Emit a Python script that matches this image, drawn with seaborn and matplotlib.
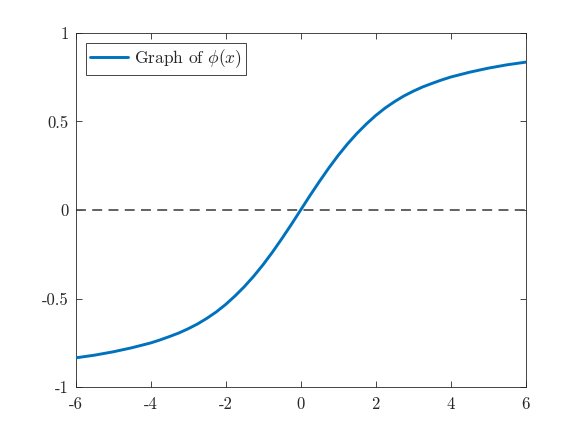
import matplotlib
matplotlib.use("Agg")
import matplotlib.pyplot as plt
import seaborn as sns
import pandas as pd

# values
x_vals = [-6, -5.5, -5, -4.5, -4, -3.75, -3.5, -3.25, -3, -2.75, -2.5, -2.25, -2, -1.75, -1.5, -1.25, -1,
          -0.75, -0.5, -0.25, 0, 0.25, 0.5, 0.75, 1, 1.25, 1.5, 1.75, 2, 2.25, 2.5, 2.75, 3,
          3.25, 3.5, 3.75, 4, 4.5, 5, 5.5, 6]
phi_vals = [-0.834, -0.819, -0.800, -0.777, -0.750, -0.733, -0.714, -0.694, -0.670, -0.643, -0.611,
            -0.575, -0.533, -0.485, -0.432, -0.373, -0.308, -0.237, -0.161, -0.082, 0.0,
            0.082, 0.161, 0.237, 0.308, 0.373, 0.432, 0.485, 0.533, 0.575, 0.611, 0.643, 0.670,
            0.694, 0.714, 0.733, 0.750, 0.777, 0.800, 0.819, 0.834]
x_ticks = [-6, -4, -2, 0, 2, 4, 6]
y_ticks = [-1, -0.5, 0, 0.5, 1]
y_tick_labels = ["-1", "-0.5", "0", "0.5", "1"]
x_tick_labels = ["-6", "-4", "-2", "0", "2", "4", "6"]
series_label = r"Graph of $\phi(x)$"

sns.set_style("ticks")
plt.rcParams["font.family"] = ["cmr10", "DejaVu Serif"]
plt.rcParams["mathtext.fontset"] = "cm"
plt.rcParams["axes.unicode_minus"] = False

df = pd.DataFrame({"x": x_vals, "phi": phi_vals})

fig = plt.figure(figsize=(5.81, 4.36), dpi=100)
ax = fig.add_axes([0.13, 0.1117, 0.775, 0.8133])

ax.axhline(0, color="#555555", lw=1.3, ls=(0, (5.5, 3.5)), zorder=1)
sns.lineplot(data=df, x="x", y="phi", ax=ax, color="#0072BD", lw=2.1,
             label=series_label, zorder=3)

ax.set_xlim(-6, 6)
ax.set_ylim(-1, 1)
ax.set_xticks(x_ticks)
ax.set_xticklabels(x_tick_labels)
ax.set_yticks(y_ticks)
ax.set_yticklabels(y_tick_labels)
ax.set_xlabel("")
ax.set_ylabel("")

for s in ax.spines.values():
    s.set_visible(True)
    s.set_color("#262626")
    s.set_linewidth(0.6)
ax.tick_params(direction="in", top=True, right=True, length=4, width=0.6,
               color="#262626", labelsize=12, labelcolor="#262626", pad=5)
ax.tick_params(axis="x", pad=7)

leg = ax.legend(loc="upper left", fontsize=12.5, frameon=True, fancybox=False,
                handlelength=2.2, handletextpad=0.3, borderpad=0.25,
                borderaxespad=0.6)
leg.get_frame().set_edgecolor("#262626")
leg.get_frame().set_linewidth(0.6)
leg.get_frame().set_alpha(1)

fig.savefig("out.png", dpi=100)
